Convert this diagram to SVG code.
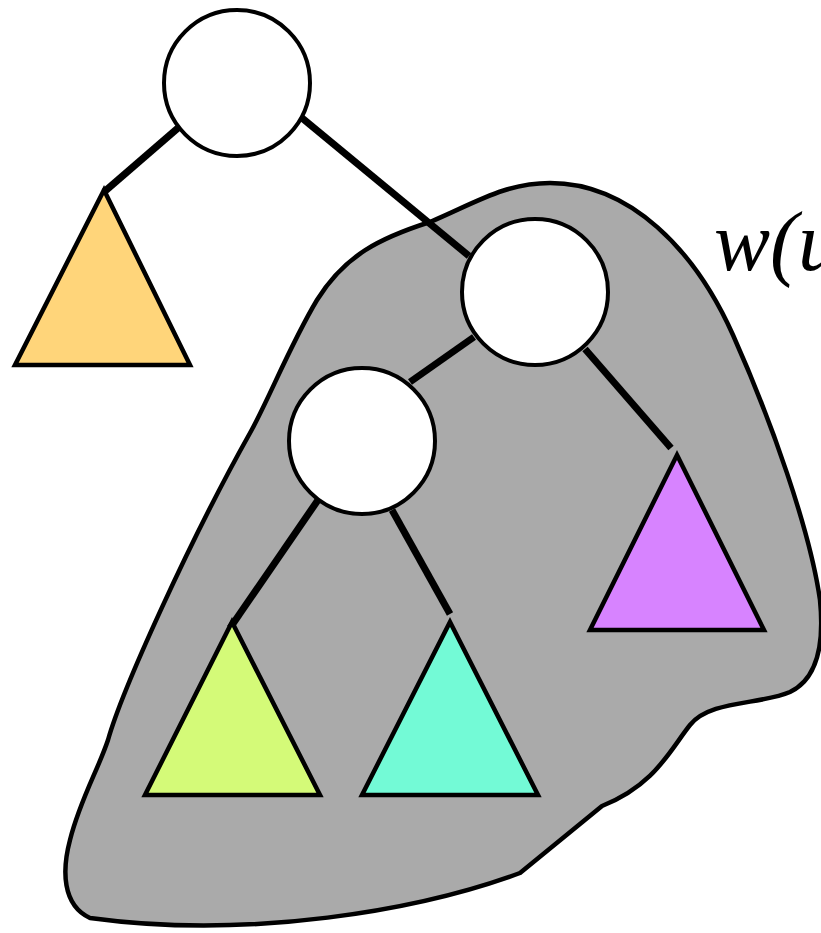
<svg xmlns="http://www.w3.org/2000/svg" width="821" height="933" viewBox="0 0 821 933">
<style>
.blob{fill:#aaaaaa;stroke:#000;stroke-width:4.5;stroke-linejoin:round}
.edge{stroke:#000;stroke-width:7;fill:none}
.node{fill:#fff;stroke:#000;stroke-width:4}
.tri{stroke:#000;stroke-width:4.5;stroke-linejoin:miter}
.lbl{font-family:"Liberation Serif","Times New Roman",serif;font-style:italic;font-size:84px;fill:#000}
</style>
<rect width="821" height="933" fill="#fff"/>
<g id="subtree-region">
<path class="blob" d="M550,183 C630,183 695,250 733,335 C771,420 810,530 820,600 C825,650 815,680 790,692 C760,705 710,700 690,725 C670,750 655,785 602,806 L520,873 C420,910 250,940 90,918 C62,905 62,870 70,840 C80,800 98,770 108,740 C122,690 190,540 250,433 C268,401 290,345 317,300 C345,255 380,238 430,222 C475,203 505,183 550,183 Z"/>
</g>
<g id="connectors">
<line class="edge" x1="178" y1="128" x2="104" y2="192"/>
<line class="edge" x1="302" y1="118" x2="469" y2="256"/>
<line class="edge" x1="474" y1="337" x2="410" y2="382"/>
<line class="edge" x1="585" y1="349" x2="671" y2="448"/>
<line class="edge" x1="318" y1="500" x2="230" y2="628"/>
<line class="edge" x1="392" y1="510" x2="450" y2="614"/>
</g>
<g id="root"><circle class="node" cx="237" cy="83" r="73"/></g>
<g id="right-child"><circle class="node" cx="535" cy="292" r="73"/></g>
<g id="left-grandchild"><circle class="node" cx="362" cy="441" r="73"/></g>
<g id="orange-subtree"><polygon class="tri" fill="#FFD57A" points="104,190 190,365 15,365"/></g>
<g id="purple-subtree"><polygon class="tri" fill="#D783FF" points="677,455 764,630 590,630"/></g>
<g id="green-subtree"><polygon class="tri" fill="#D4FA78" points="232,622 320,795 145,795"/></g>
<g id="teal-subtree"><polygon class="tri" fill="#73FAD6" points="450,622 538,795 362,795"/></g>
<g id="label"><text class="lbl" x="714" y="270">w(u)</text></g>
</svg>
